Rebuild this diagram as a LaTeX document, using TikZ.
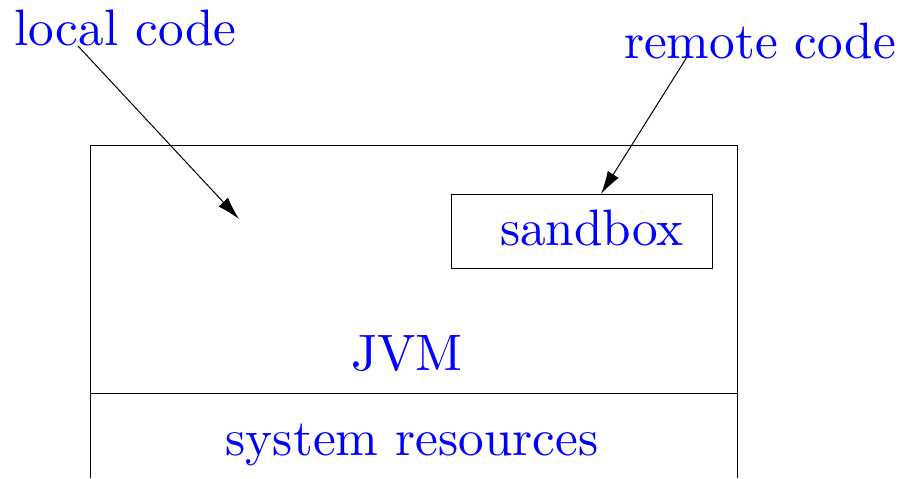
\documentclass[tikz,border=0pt]{standalone}
\usepackage{fontspec}
\setmainfont{lmroman10-regular.otf}
\usetikzlibrary{arrows.meta}
\tikzset{
  lbl/.style={text=blue, font=\fontsize{25.6}{30}\selectfont, inner sep=0pt, anchor=base},
  frame/.style={draw=black, line width=0.5pt},
  ptr/.style={draw=black, line width=0.5pt, -{Latex[length=11.5pt,width=6.5pt]}}
}
\begin{document}
\begin{tikzpicture}[x=0.5pt,y=-0.5pt]
\useasboundingbox (0,0) rectangle (901,478);
% JVM frame (open at bottom)
\draw[frame] (90,478) -- (90,145) -- (737,145) -- (737,478);
\draw[frame] (90,393) -- (737,393);
% sandbox
\node[frame, minimum width=130.5pt, minimum height=37pt, inner sep=0pt] (sandbox) at (581.5,231) {};
\node[lbl] (sandtext) at (592,245) {sandbox};
% labels
\node[lbl] (jvm) at (407,370) {JVM};
\node[lbl] (sysres) at (412,455) {system resources};
\node[lbl] (local) at (125.5,45) {local code};
\node[lbl] (remote) at (760,58) {remote code};
% connectors
\coordinate (lstart) at (78,46);
\coordinate (lend) at (239,219);
\coordinate (rstart) at (687,57);
\coordinate (rend) at (601,194);
\draw[ptr] (lstart) -- (lend);
\draw[ptr] (rstart) -- (rend);
\end{tikzpicture}
\end{document}
